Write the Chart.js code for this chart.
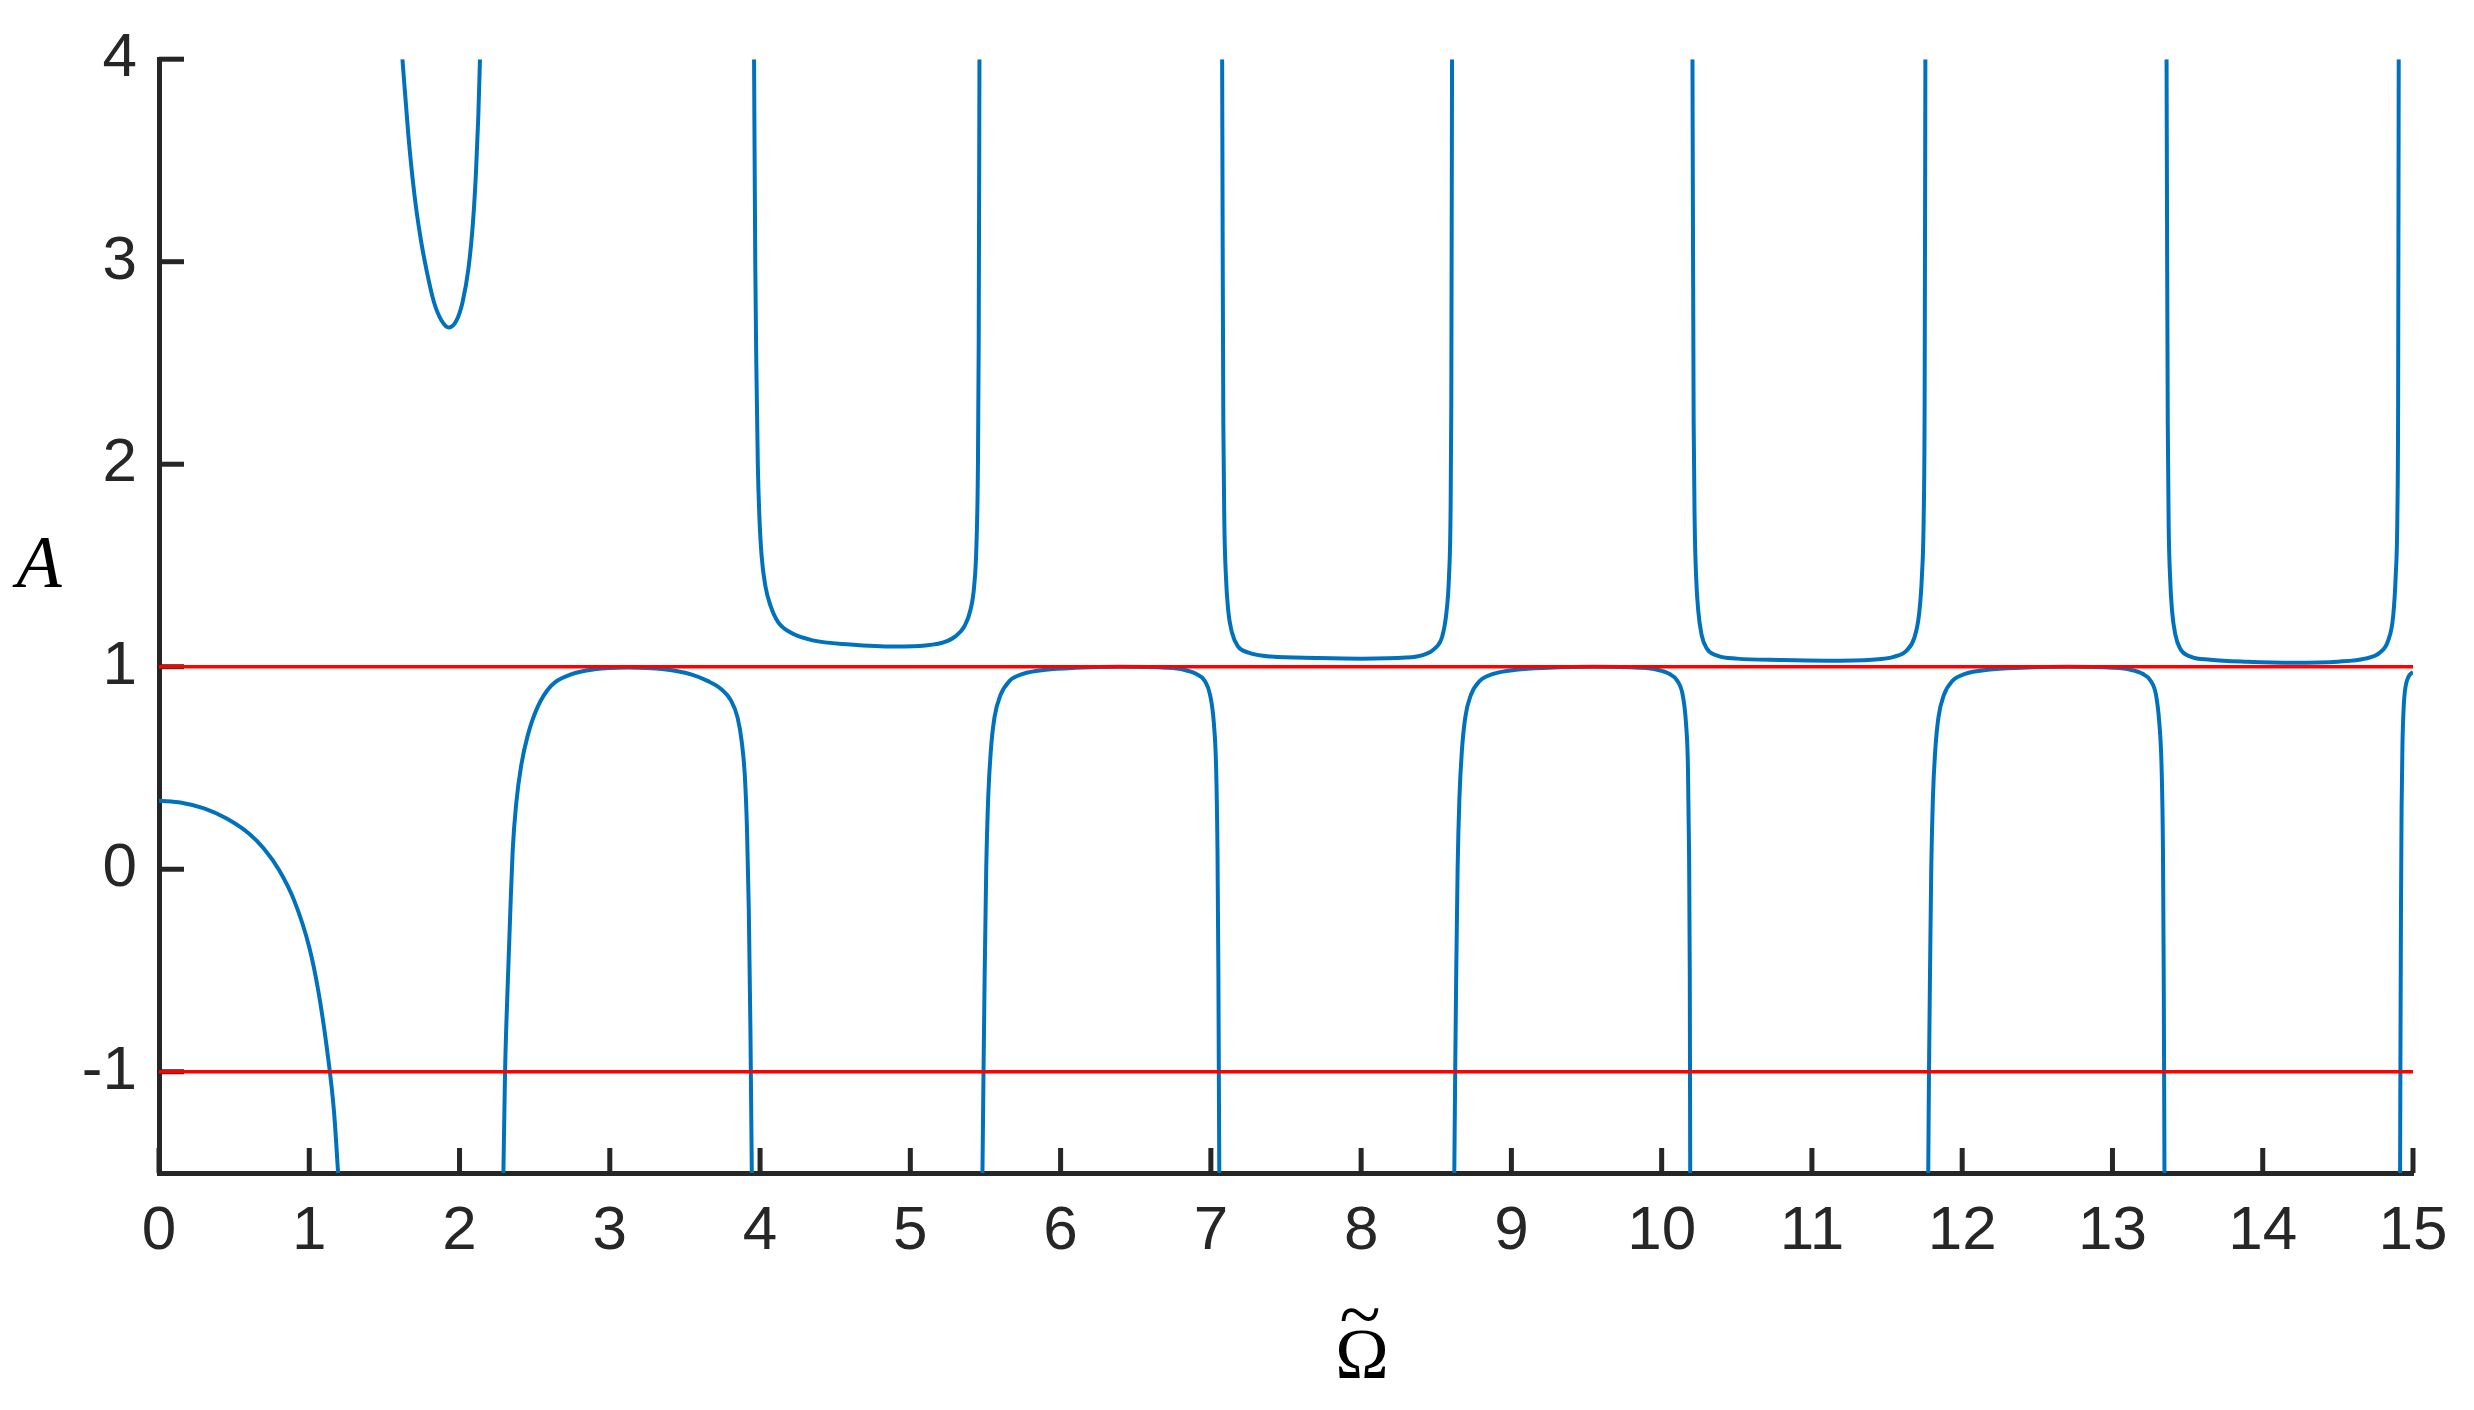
<!DOCTYPE html>
<html>
<head>
<meta charset="utf-8">
<script src="https://cdn.jsdelivr.net/npm/chart.js@4.4.1/dist/chart.umd.min.js"></script>
<style>
  html, body { margin: 0; padding: 0; background: #fff; }
</style>
</head>
<body>
<canvas id="chart" width="2474" height="1410"></canvas>
<script>
// tick values
const xTicks = [0, 1, 2, 3, 4, 5, 6, 7, 8, 9, 10, 11, 12, 13, 14, 15];
const yTicks = [-1, 0, 1, 2, 3, 4];

// red reference lines
const limitUpper = [[0, 1], [15, 1]];
const limitLower = [[0, -1], [15, -1]];

// blue curve, one array per branch
const lower1 = [[0, 0.338], [0.15, 0.328], [0.3, 0.3], [0.45, 0.25], [0.6, 0.175], [0.7, 0.1], [0.8, -0.005],
  [0.9, -0.155], [1.0, -0.385], [1.06, -0.6], [1.12, -0.9], [1.165, -1.2], [1.192, -1.5]];
const upper1 = [[1.62, 4.0], [1.66, 3.62], [1.7, 3.33], [1.74, 3.12], [1.78, 2.96], [1.83, 2.8], [1.88, 2.71],
  [1.93, 2.675], [1.98, 2.71], [2.02, 2.8], [2.06, 2.97], [2.09, 3.2], [2.11, 3.45], [2.125, 3.72], [2.136, 4.0]];
const lower2 = [[2.292, -1.5], [2.303, -1.0], [2.321, -0.562], [2.339, -0.185], [2.354, 0.097], [2.377, 0.323],
  [2.41, 0.511], [2.454, 0.661], [2.52, 0.802], [2.609, 0.906], [2.742, 0.962], [2.897, 0.987], [3.118, 0.996],
  [3.362, 0.987], [3.54, 0.962], [3.65, 0.93], [3.74, 0.89], [3.805, 0.835], [3.85, 0.75], [3.878, 0.63],
  [3.898, 0.47], [3.913, 0.2], [3.925, -0.2], [3.936, -0.8], [3.945, -1.5]];
const upper2 = [[3.96, 4.0], [3.968, 3.0], [3.975, 2.5], [3.985, 2.0], [3.995, 1.75], [4.01, 1.55], [4.035, 1.4],
  [4.07, 1.3], [4.12, 1.22], [4.2, 1.17], [4.35, 1.13], [4.6, 1.11], [4.9, 1.1], [5.1, 1.105], [5.22, 1.12],
  [5.3, 1.15], [5.36, 1.2], [5.4, 1.28], [5.425, 1.4], [5.44, 1.6], [5.45, 2.0], [5.455, 2.6], [5.46, 4.0]];
const lower3 = [[5.48, -1.5], [5.487, -1.0], [5.495, -0.5], [5.505, 0.0], [5.518, 0.35], [5.535, 0.58], [5.56, 0.75],
  [5.6, 0.86], [5.66, 0.93], [5.75, 0.965], [5.9, 0.985], [6.1, 0.995], [6.4, 1.0], [6.7, 0.995], [6.82, 0.985],
  [6.9, 0.965], [6.96, 0.93], [6.995, 0.86], [7.02, 0.72], [7.035, 0.5], [7.044, 0.1], [7.05, -0.5], [7.053, -1.0],
  [7.056, -1.5]];
const upper3 = [[7.075, 4.0], [7.079, 3.0], [7.083, 2.2], [7.09, 1.7], [7.1, 1.45], [7.115, 1.28], [7.14, 1.17],
  [7.18, 1.1], [7.25, 1.07], [7.4, 1.05], [7.7, 1.043], [8.0, 1.04], [8.3, 1.045], [8.42, 1.06], [8.49, 1.09],
  [8.54, 1.15], [8.568, 1.27], [8.585, 1.45], [8.595, 1.75], [8.6, 2.3], [8.605, 4.0]];
const lower4 = [[8.62, -1.5], [8.626, -1.0], [8.633, -0.5], [8.642, 0.0], [8.654, 0.35], [8.67, 0.58], [8.693, 0.75],
  [8.73, 0.86], [8.79, 0.93], [8.88, 0.965], [9.03, 0.985], [9.25, 0.995], [9.55, 1.0], [9.85, 0.995], [9.97, 0.985],
  [10.05, 0.965], [10.105, 0.93], [10.14, 0.86], [10.162, 0.72], [10.175, 0.5], [10.182, 0.1], [10.187, -0.5],
  [10.19, -1.5]];
const upper4 = [[10.205, 4.0], [10.209, 3.0], [10.213, 2.2], [10.22, 1.7], [10.229, 1.45], [10.243, 1.28], [10.265, 1.16],
  [10.3, 1.09], [10.37, 1.055], [10.5, 1.04], [10.8, 1.033], [11.1, 1.03], [11.4, 1.035], [11.55, 1.05], [11.63, 1.08],
  [11.68, 1.14], [11.713, 1.26], [11.732, 1.45], [11.744, 1.75], [11.75, 2.3], [11.755, 4.0]];
const lower5 = [[11.774, -1.5], [11.779, -1.0], [11.786, -0.5], [11.794, 0.0], [11.805, 0.35], [11.82, 0.58],
  [11.842, 0.75], [11.878, 0.86], [11.935, 0.93], [12.02, 0.965], [12.17, 0.985], [12.4, 0.995], [12.7, 1.0],
  [13.0, 0.995], [13.12, 0.985], [13.2, 0.965], [13.255, 0.93], [13.29, 0.86], [13.312, 0.72], [13.327, 0.5],
  [13.336, 0.1], [13.341, -0.5], [13.346, -1.5]];
const upper5 = [[13.36, 4.0], [13.364, 3.0], [13.368, 2.2], [13.374, 1.7], [13.383, 1.45], [13.396, 1.28],
  [13.418, 1.16], [13.45, 1.09], [13.52, 1.05], [13.65, 1.035], [13.9, 1.025], [14.2, 1.02], [14.5, 1.025],
  [14.68, 1.04], [14.78, 1.07], [14.835, 1.13], [14.868, 1.25], [14.885, 1.45], [14.896, 1.75], [14.901, 2.3],
  [14.905, 4.0]];
const lower6 = [[14.914, -1.5], [14.917, -0.8], [14.92, -0.2], [14.924, 0.3], [14.93, 0.62], [14.938, 0.8],
  [14.95, 0.9], [14.97, 0.95], [15.0, 0.975]];

const blueBranches = [lower1, upper1, lower2, upper2, lower3, upper3, lower4, upper4, lower5, upper5, lower6];

const BLUE = '#0072BD';
const RED = '#FF0000';
const AXIS = '#262626';
const pts = arr => arr.map(p => ({ x: p[0], y: p[1] }));

const datasets = [
  { data: pts(limitUpper), borderColor: RED, borderWidth: 3.5, pointRadius: 0, tension: 0 },
  { data: pts(limitLower), borderColor: RED, borderWidth: 3.5, pointRadius: 0, tension: 0 }
];
blueBranches.forEach(b => {
  datasets.push({ data: pts(b), borderColor: BLUE, borderWidth: 4, pointRadius: 0, cubicInterpolationMode: 'monotone' });
});

// inward ticks and axis titles
const decor = {
  id: 'decor',
  beforeDatasetsDraw(chart) {
    const { ctx, chartArea, scales } = chart;
    ctx.save();
    ctx.strokeStyle = AXIS;
    ctx.lineWidth = 5;
    xTicks.forEach(v => {
      const px = scales.x.getPixelForValue(v);
      ctx.beginPath();
      ctx.moveTo(px, chartArea.bottom);
      ctx.lineTo(px, chartArea.bottom - 25);
      ctx.stroke();
    });
    yTicks.forEach(v => {
      const py = scales.y.getPixelForValue(v);
      ctx.beginPath();
      ctx.moveTo(chartArea.left, py);
      ctx.lineTo(chartArea.left + 25, py);
      ctx.stroke();
    });
    ctx.restore();
  },
  afterDraw(chart) {
    const { ctx, chartArea } = chart;
    ctx.save();
    ctx.fillStyle = '#000';
    ctx.textAlign = 'center';
    ctx.font = 'italic 74px "Liberation Serif"';
    ctx.textBaseline = 'alphabetic';
    ctx.fillText('A', chartArea.left - 120, chartArea.top + 528);
    // x title: Omega with a tilde above it
    ctx.font = '72px "Liberation Serif"';
    ctx.fillText('Ω', 1362, 1378);
    ctx.font = '76px "Liberation Serif"';
    ctx.fillText('~', 1360, 1340);
    ctx.restore();
  }
};

new Chart(document.getElementById('chart'), {
  type: 'line',
  data: { datasets },
  options: {
    responsive: false,
    animation: false,
    events: [],
    layout: { padding: { top: 55, right: 61, left: 0, bottom: 0 } },
    plugins: { legend: { display: false }, tooltip: { enabled: false } },
    scales: {
      x: {
        type: 'linear',
        min: 0,
        max: 15,
        afterBuildTicks: s => { s.ticks = xTicks.map(v => ({ value: v })); },
        afterFit: s => { s.height = 237; },
        grid: { display: true, drawOnChartArea: false, drawTicks: false },
        border: { display: true, color: AXIS, width: 5 },
        ticks: { color: AXIS, padding: 22, font: { family: '"Liberation Sans", Arial, sans-serif', size: 62 }, maxRotation: 0 }
      },
      y: {
        type: 'linear',
        min: -1.5,
        max: 4,
        afterBuildTicks: s => { s.ticks = yTicks.map(v => ({ value: v })); },
        afterFit: s => { s.width = 159; },
        grid: { display: true, drawOnChartArea: false, drawTicks: false },
        border: { display: true, color: AXIS, width: 5 },
        ticks: { color: AXIS, padding: 22, font: { family: '"Liberation Sans", Arial, sans-serif', size: 62 } }
      }
    }
  },
  plugins: [decor]
});
</script>
</body>
</html>
